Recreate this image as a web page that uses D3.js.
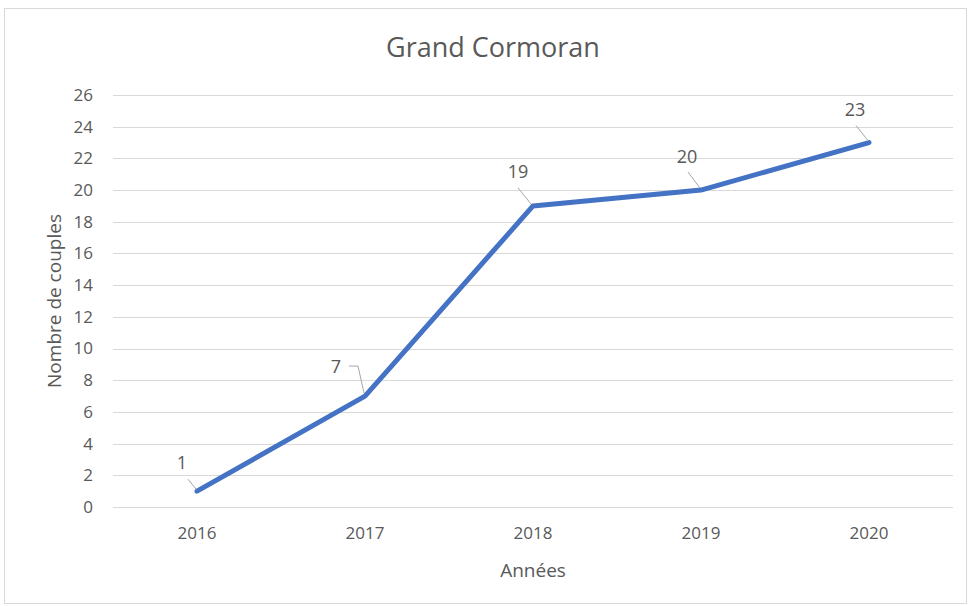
<html>
<head>
  <meta charset="utf-8">
  <title>Grand Cormoran</title>
  <script src="https://d3js.org/d3.v7.min.js"></script>
  <style>
    body { margin: 0; background: #fff; }
    text { font-family: "Open Sans", sans-serif; fill: #595959; }
  </style>
</head>
<body>
<script>

var years = ["2016", "2017", "2018", "2019", "2020"];
var couples = [1, 7, 19, 20, 23];
var yTicks = [0, 2, 4, 6, 8, 10, 12, 14, 16, 18, 20, 22, 24, 26];

// label placement relative to each point (px): label centre, and leader elbow
var labelOffsets = [
  {dx: -15, dy: -28, leader: [[-1, -2], [-9, -12]]},
  {dx: -29, dy: -29, leader: [[-1, -3], [-7, -30], [-16, -30]]},
  {dx: -15, dy: -34, leader: [[-2, -2], [-15, -18]]},
  {dx: -14, dy: -33, leader: [[-1, -2], [-13, -18]]},
  {dx: -14, dy: -33, leader: [[-1, -2], [-13, -17]]}
];

var width = 970,
    height = 606;

var plot = {left: 113, right: 953, top: 95, bottom: 507};

var svg = d3.select("body")
  .append("svg")
  .attr("width", width)
  .attr("height", height);

// chart border
svg.append("rect")
  .attr("x", 4.5).attr("y", 8.5)
  .attr("width", 962).attr("height", 595)
  .attr("fill", "#fff")
  .attr("stroke", "#d9d9d9");

var x = d3.scaleBand().domain(years).range([plot.left, plot.right]);
var y = d3.scaleLinear().domain([0, 26]).range([plot.bottom, plot.top]);

// gridlines
svg.append("g")
  .selectAll("line")
  .data(yTicks)
  .enter().append("line")
  .attr("x1", plot.left).attr("x2", plot.right)
  .attr("y1", function(d) { return Math.round(y(d)) + 0.5; })
  .attr("y2", function(d) { return Math.round(y(d)) + 0.5; })
  .attr("stroke", "#d9d9d9")
  .attr("stroke-width", 1);

// y axis labels
var yAxis = svg.append("g")
  .attr("transform", "translate(" + plot.left + ",0)")
  .call(d3.axisLeft(y).tickValues(yTicks).tickSize(0).tickPadding(20));
yAxis.select(".domain").remove();
yAxis.selectAll("text").style("font-size", "17px").attr("fill", "#595959");

// x axis labels
var xAxis = svg.append("g")
  .attr("transform", "translate(0," + plot.bottom + ")")
  .call(d3.axisBottom(x).tickSize(0).tickPadding(20));
xAxis.select(".domain").remove();
xAxis.selectAll("text").style("font-size", "17px").attr("fill", "#595959");

var pts = years.map(function(yr, i) {
  return [x(yr) + x.bandwidth() / 2, y(couples[i])];
});

// line
svg.append("path")
  .datum(pts)
  .attr("d", d3.line())
  .attr("fill", "none")
  .attr("stroke", "#4472c4")
  .attr("stroke-width", 5)
  .attr("stroke-linejoin", "round")
  .attr("stroke-linecap", "round");

// leader lines
svg.append("g")
  .selectAll("path")
  .data(pts)
  .enter().append("path")
  .attr("d", function(p, i) {
    return d3.line()(labelOffsets[i].leader.map(function(o) { return [p[0] + o[0], p[1] + o[1]]; }));
  })
  .attr("fill", "none")
  .attr("stroke", "#a6a6a6")
  .attr("stroke-width", 1);

// data labels
svg.append("g")
  .selectAll("text")
  .data(pts)
  .enter().append("text")
  .attr("x", function(p, i) { return p[0] + labelOffsets[i].dx; })
  .attr("y", function(p, i) { return p[1] + labelOffsets[i].dy; })
  .attr("dy", "0.35em")
  .attr("text-anchor", "middle")
  .style("font-size", "18px")
  .attr("fill", "#404040")
  .text(function(p, i) { return couples[i]; });

// title
svg.append("text")
  .attr("x", 493).attr("y", 57)
  .attr("text-anchor", "middle")
  .style("font-size", "27px")
  .text("Grand Cormoran");

// axis titles
svg.append("text")
  .attr("x", (plot.left + plot.right) / 2).attr("y", 577)
  .attr("text-anchor", "middle")
  .style("font-size", "19px")
  .text("Années");

svg.append("text")
  .attr("transform", "translate(61," + ((plot.top + plot.bottom) / 2) + ") rotate(-90)")
  .attr("text-anchor", "middle")
  .style("font-size", "19px")
  .text("Nombre de couples");

</script>
</body>
</html>
